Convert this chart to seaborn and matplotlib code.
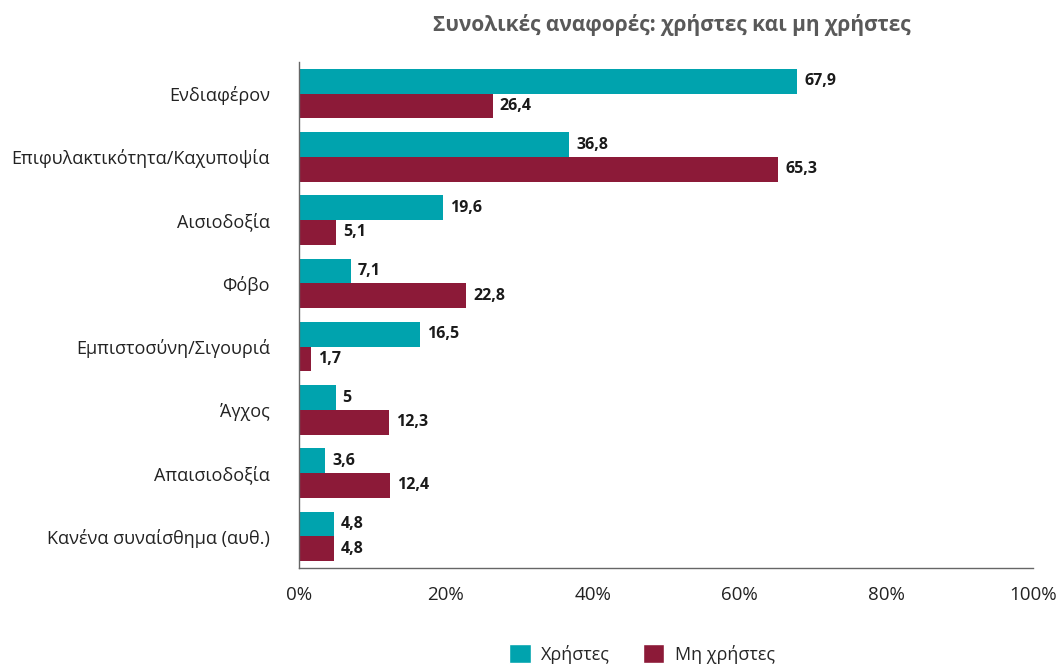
import matplotlib
matplotlib.use("Agg")
import matplotlib.pyplot as plt
import seaborn as sns
import pandas as pd
import numpy as np
from matplotlib.patches import Patch

categories = ["Ενδιαφέρον", "Επιφυλακτικότητα/Καχυποψία", "Αισιοδοξία", "Φόβο",
              "Εμπιστοσύνη/Σιγουριά", "Άγχος", "Απαισιοδοξία", "Κανένα συναίσθημα (αυθ.)"]
users = [67.9, 36.8, 19.6, 7.1, 16.5, 5, 3.6, 4.8]
non_users = [26.4, 65.3, 5.1, 22.8, 1.7, 12.3, 12.4, 4.8]
series_names = ["Χρήστες", "Μη χρήστες"]
colors = ["#00A3AE", "#8C1A38"]
title = "Συνολικές αναφορές: χρήστες και μη χρήστες"

sns.set_theme(style="white")
plt.rcParams['font.family'] = ['Open Sans', 'Noto Sans', 'DejaVu Sans']

df = pd.DataFrame({
    "cat": categories * 2,
    "val": users + non_users,
    "series": [series_names[0]] * len(categories) + [series_names[1]] * len(categories),
})

fig = plt.figure(figsize=(10.63, 6.66), dpi=100)
ax = fig.add_axes([0.2813, 0.1471, 0.6905, 0.7598])

sns.barplot(data=df, x="val", y="cat", hue="series", orient="h",
            palette=colors, width=0.78, dodge=True, saturation=1, linewidth=0,
            ax=ax, legend=False, order=categories, hue_order=series_names)

def fmt(v):
    if float(v).is_integer():
        return f"{int(v)}"
    return f"{v:.1f}".replace(".", ",")

for container in ax.containers:
    ax.bar_label(container, labels=[fmt(b.get_width()) for b in container],
                 padding=5, fontsize=11.5, fontweight="bold", color="#1a1a1a")

ax.set_xlim(0, 100)
ax.set_ylim(len(categories) - 0.5, -0.5)
ax.set_xticks([0, 20, 40, 60, 80, 100])
ax.set_xticklabels(["0%", "20%", "40%", "60%", "80%", "100%"], fontsize=13.5, color="#222222")
ax.tick_params(axis="x", direction="in", length=6, color="#666666", pad=13)
ax.set_yticks(range(len(categories)))
ax.set_yticklabels(categories, fontsize=13, color="#222222")
ax.tick_params(axis="y", length=0, pad=21)
ax.set_yticks(np.arange(0.5, len(categories) - 1, 1), minor=True)
ax.tick_params(axis="y", which="minor", direction="in", length=6, color="#666666", width=1)
ax.set_xlabel("")
ax.set_ylabel("")
for s in ["top", "right"]:
    ax.spines[s].set_visible(False)
for s in ["left", "bottom"]:
    ax.spines[s].set_color("#666666")
    ax.spines[s].set_linewidth(1)

fig.text(0.632, 0.962, title, ha="center", va="center", fontsize=15,
         fontweight="bold", color="#595959")

handles = [Patch(facecolor=c, label=n) for c, n in zip(colors, series_names)]
fig.legend(handles=handles, loc="center", bbox_to_anchor=(0.604, 0.018), ncol=2,
           frameon=False, fontsize=13, handlelength=1.2, handleheight=1.2,
           handletextpad=0.6, columnspacing=1.8)

fig.savefig("out.png", dpi=100)
